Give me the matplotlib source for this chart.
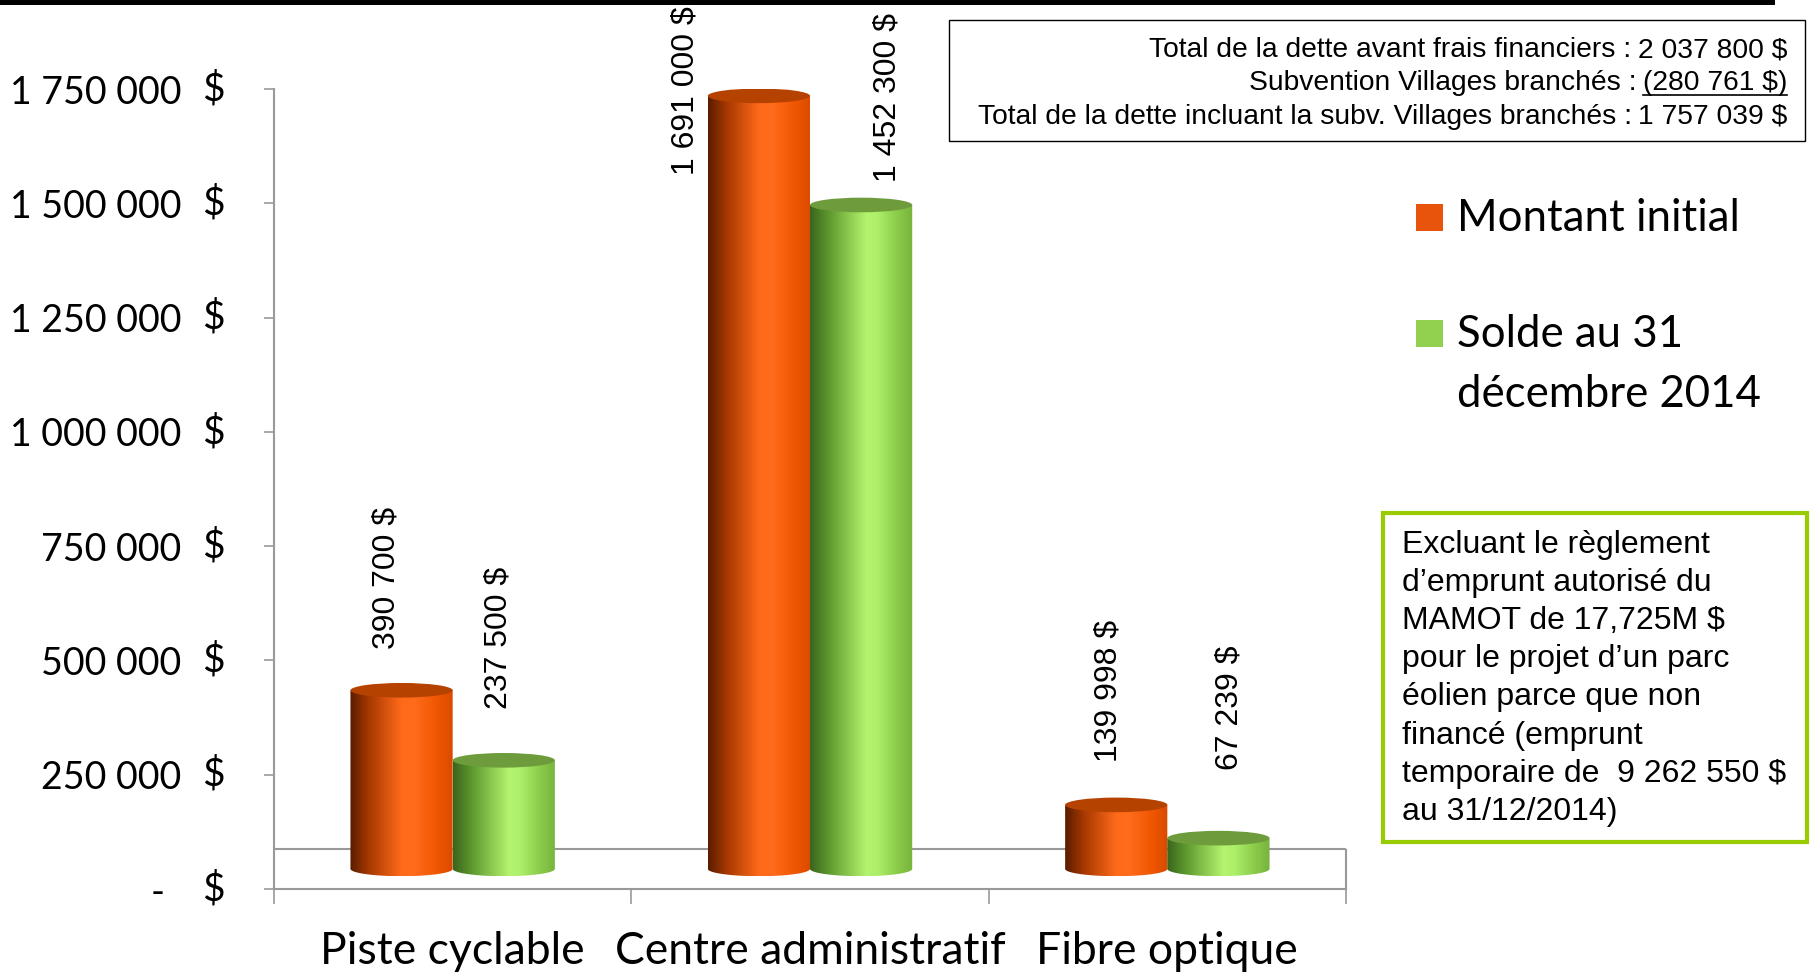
import numpy as np
import matplotlib
matplotlib.use('Agg')
import matplotlib.pyplot as plt
import matplotlib.transforms as mtransforms
from matplotlib.colors import LinearSegmentedColormap
from matplotlib.patches import Ellipse, PathPatch, Rectangle
from matplotlib.path import Path
from matplotlib.lines import Line2D

# data
categories = ['Piste cyclable', 'Centre administratif', 'Fibre optique']
series_names = ['Montant initial', 'Solde au 31\ndécembre 2014']
montant_initial = [390700, 1691000, 139998]
solde_2014 = [237500, 1452300, 67239]

y_ticks = [0, 250000, 500000, 750000, 1000000, 1250000, 1500000, 1750000]
y_tick_labels = ['-', '250 000', '500 000', '750 000', '1 000 000',
                 '1 250 000', '1 500 000', '1 750 000']

info_labels = ['Total de la dette avant frais financiers :',
               'Subvention Villages branchés :',
               'Total de la dette incluant la subv. Villages branchés :']
info_amounts = ['2 037 800 $', '(280 761 $)', '1 757 039 $']

note_lines = ['Excluant le règlement', 'd’emprunt autorisé du',
              'MAMOT de 17,725M $', 'pour le projet d’un parc',
              'éolien parce que non', 'financé (emprunt',
              'temporaire de  9 262 550 $', 'au 31/12/2014)']

# label nudges (pixels) to mimic where Excel put the data labels
label_offsets = [[(-15, 41), (-73, -79), (-8, 43)],
                 [(-5, 51), (26, 23), (11, 68)]]

plt.rcParams['font.family'] = ['Lato', 'DejaVu Sans']

W, H = 1811, 972
fig = plt.figure(figsize=(W / 100, H / 100), dpi=100)
fig.patch.set_facecolor('white')


def fx(p):
    return p / W


def fy(p):
    return 1 - p / H


ax = fig.add_axes([fx(274), fy(889), fx(1346) - fx(274), 800 / H])

gray = '#999999'
orange_cmap = LinearSegmentedColormap.from_list(
    'orange', [(0, '#5a1c00'), (0.18, '#a63800'), (0.5, '#ff6a1a'),
               (0.62, '#ff6c1c'), (0.85, '#ef5600'), (1, '#d94b00')])
green_cmap = LinearSegmentedColormap.from_list(
    'green', [(0, '#3a651c'), (0.18, '#5d982e'), (0.55, '#b4f46e'),
              (0.65, '#aef06a'), (0.85, '#8acb4a'), (1, '#76b33c')])
cmaps = [orange_cmap, green_cmap]
top_colors = ['#b64200', '#6e9c3c']
legend_colors = ['#e8540c', '#92d050']

base = 44000       # bars stand a bit behind the front edge (3D look)
ell_h = 32000      # height of the cylinder caps, in data units
floor_y = 87500    # back edge of the floor
width = 0.286
offsets = [-0.143, 0.143]
x = np.arange(len(categories))


def cylinder(rect, cmap, top_color):
    x0 = rect.get_x()
    w = rect.get_width()
    y0 = rect.get_y()
    y1 = y0 + rect.get_height()
    t = np.linspace(np.pi, 2 * np.pi, 80)
    ex = x0 + w / 2 + w / 2 * np.cos(t)
    ey = y0 + ell_h / 2 * np.sin(t)
    verts = [(x0, y1)] + list(zip(ex, ey)) + [(x0 + w, y1), (x0, y1)]
    codes = [Path.MOVETO] + [Path.LINETO] * (len(verts) - 2) + [Path.CLOSEPOLY]
    clip = PathPatch(Path(verts, codes), transform=ax.transData,
                     facecolor='none', edgecolor='none')
    grad = np.linspace(0, 1, 256).reshape(1, -1)
    im = ax.imshow(grad, cmap=cmap, extent=[x0, x0 + w, y0 - ell_h / 2, y1],
                   aspect='auto', interpolation='bicubic', zorder=3)
    im.set_clip_path(clip)
    ax.add_patch(Ellipse((x0 + w / 2, y1), w, ell_h, facecolor=top_color,
                         edgecolor='none', zorder=4))


def fmt(v):
    return f'{v:,}'.replace(',', ' ') + ' $'


for i, vals in enumerate([montant_initial, solde_2014]):
    bars = ax.bar(x + offsets[i], vals, width, bottom=base,
                  color='none', edgecolor='none')
    for rect, v, (dx, dy) in zip(bars, vals, label_offsets[i]):
        cylinder(rect, cmaps[i], top_colors[i])
        ax.annotate(fmt(v), xy=(rect.get_x() + rect.get_width() / 2,
                                rect.get_y() + rect.get_height()),
                    xytext=(dx, dy), textcoords='offset pixels',
                    rotation=90, ha='center', va='bottom', fontsize=23,
                    family='Liberation Sans', annotation_clip=False)

ax.set_xlim(-0.5, 2.5)
ax.set_ylim(0, 1750000)

# floor of the 3D chart
ax.axhline(floor_y, color=gray, lw=1.5, zorder=1)
ax.vlines(2.5, 0, floor_y, color=gray, lw=1.5, zorder=1, clip_on=False)

for s in ['top', 'right']:
    ax.spines[s].set_visible(False)
for s in ['left', 'bottom']:
    ax.spines[s].set_color(gray)
    ax.spines[s].set_linewidth(1.5)

ax.set_yticks(y_ticks, y_tick_labels)
ax.tick_params(axis='y', length=7.5, width=1.2, color=gray, pad=59,
               labelsize=27)
ax.yaxis.get_major_ticks()[0].label1.set_x(-17 / 1072)
dollar_trans = mtransforms.offset_copy(ax.get_yaxis_transform(), fig=fig,
                                       x=-49, y=0, units='dots')
for t in y_ticks:
    ax.text(0, t, '$', transform=dollar_trans, ha='right', va='center',
            fontsize=28)

ax.set_xticks(np.arange(-0.5, len(categories)), [''] * (len(categories) + 1))
ax.set_xticks(x, categories, minor=True)
ax.tick_params(axis='x', which='major', length=11, width=1.2, color=gray)
ax.tick_params(axis='x', which='minor', length=0, pad=30, labelsize=32)

# top black rule
fig.add_artist(Rectangle((0, fy(5)), fx(1775), 5 / H, transform=fig.transFigure,
                         facecolor='black', edgecolor='none'))

# legend
leg_y = [(204, 231), (320, 347)]
for name, col, (ya, yb) in zip(series_names, legend_colors, leg_y):
    fig.add_artist(Rectangle((fx(1416), fy(yb)), fx(1443) - fx(1416),
                             (yb - ya) / H, transform=fig.transFigure,
                             facecolor=col, edgecolor='none'))
    for k, line in enumerate(name.split('\n')):
        fig.text(fx(1457), fy(yb + k * 60), line, ha='left', va='baseline',
                 fontsize=31.5)

# info box
fig.add_artist(Rectangle((fx(949), fy(141)), fx(1805) - fx(949), 121 / H,
                         transform=fig.transFigure, facecolor='white',
                         edgecolor='black', lw=1))
renderer = fig.canvas.get_renderer()
for k, (lab, amt) in enumerate(zip(info_labels, info_amounts)):
    yb = fy(57 + k * 33.5)
    ta = fig.text(fx(1787), yb, amt, ha='right', va='baseline', fontsize=20.3,
                  family='Liberation Sans')
    bb = ta.get_window_extent(renderer)
    fig.text((bb.x0 - 6) / W, yb, lab, ha='right', va='baseline',
             fontsize=20.3, family='Liberation Sans')
    if amt.startswith('('):
        fig.add_artist(Line2D([bb.x0 / W, bb.x1 / W],
                              [(bb.y0 + 1) / H, (bb.y0 + 1) / H],
                              transform=fig.transFigure, color='black', lw=1.2))

# note box
fig.add_artist(Rectangle((fx(1383), fy(842)), fx(1807) - fx(1383), 329 / H,
                         transform=fig.transFigure, facecolor='white',
                         edgecolor='#99cc00', lw=3))
for k, line in enumerate(note_lines):
    fig.text(fx(1402), fy(553 + k * 38.1), line, ha='left', va='baseline',
             fontsize=23, family='Liberation Sans')

fig.savefig('out.png', dpi=100)
